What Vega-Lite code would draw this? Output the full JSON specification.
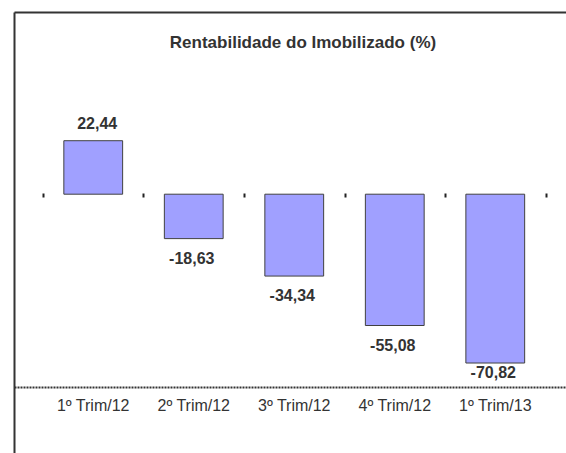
{
  "$schema": "https://vega.github.io/schema/vega-lite/v6.json",
  "width": 552,
  "height": 441,
  "autosize": {"type": "none"},
  "padding": {"left": 14, "top": 12, "right": 0, "bottom": 0},
  "background": "white",
  "config": {
    "view": {"stroke": null},
    "font": "Liberation Sans",
    "locale": {"number": {"decimal": ",", "thousands": ".", "grouping": [3], "currency": ["R$", ""], "minus": "-"}}
  },
  "title": {
    "text": "Rentabilidade do Imobilizado (%)",
    "font": "Liberation Sans",
    "fontSize": 17,
    "fontWeight": "bold",
    "color": "#333333",
    "anchor": "middle",
    "offset": -40,
    "dx": 13
  },
  "data": {
    "values": [
      {"q": "1º Trim/12", "v": 22.44},
      {"q": "2º Trim/12", "v": -18.63},
      {"q": "3º Trim/12", "v": -34.34},
      {"q": "4º Trim/12", "v": -55.08},
      {"q": "1º Trim/13", "v": -70.82}
    ]
  },
  "encoding": {
    "y": {
      "field": "v",
      "type": "quantitative",
      "scale": {"domain": [-108.56, 76.43], "nice": false, "zero": false},
      "axis": {"title": null, "labels": false, "ticks": false, "grid": false, "domain": true, "domainColor": "#333333", "domainWidth": 2}
    }
  },
  "layer": [
    {
      "mark": {"type": "bar", "width": {"band": 0.585}, "fill": "#A0A0FF", "stroke": "#404040", "strokeWidth": 1},
      "encoding": {
        "x": {
          "field": "q", "type": "nominal", "sort": null,
          "scale": {"paddingInner": 0, "paddingOuter": 0.246, "align": 0.586},
          "axis": {"orient": "bottom", "title": null, "offset": -66, "ticks": false, "labelAngle": 0,
                   "labelFont": "Liberation Sans", "labelFontSize": 16, "labelColor": "#333333", "labelPadding": 10, "labelDx": -1,
                   "domainColor": "#333333", "domainWidth": 2, "domainDash": [2, 1], "grid": false}
        }
      }
    },
    {
      "transform": [{"filter": "datum.v > 0"}],
      "mark": {"type": "text", "fontWeight": "bold", "fontSize": 16, "color": "#333333", "baseline": "alphabetic", "dy": -12, "dx": 4},
      "encoding": {
        "x": {
          "field": "q", "type": "nominal", "sort": null,
          "axis": {"orient": "top", "title": null, "labels": false, "ticks": false, "tickBand": "extent",
                   "domainColor": "#333333", "domainWidth": 2,
                   "grid": true, "gridColor": "#222222", "gridWidth": 2, "gridDash": [0, 256, 4, 2000]}
        },
        "text": {"field": "v", "type": "quantitative", "format": ".2f"}
      }
    },
    {
      "transform": [{"filter": "datum.v < 0 && datum.v > -60"}],
      "mark": {"type": "text", "fontWeight": "bold", "fontSize": 16, "color": "#333333", "baseline": "alphabetic", "dy": 25, "dx": -2},
      "encoding": {
        "x": {"field": "q", "type": "nominal", "sort": null, "axis": null},
        "text": {"field": "v", "type": "quantitative", "format": ".2f"}
      }
    },
    {
      "transform": [{"filter": "datum.v <= -60"}],
      "mark": {"type": "text", "fontWeight": "bold", "fontSize": 16, "color": "#333333", "baseline": "alphabetic", "dy": 15, "dx": -2},
      "encoding": {
        "x": {"field": "q", "type": "nominal", "sort": null, "axis": null},
        "text": {"field": "v", "type": "quantitative", "format": ".2f"}
      }
    }
  ],
  "resolve": {"axis": {"x": "independent"}}
}
